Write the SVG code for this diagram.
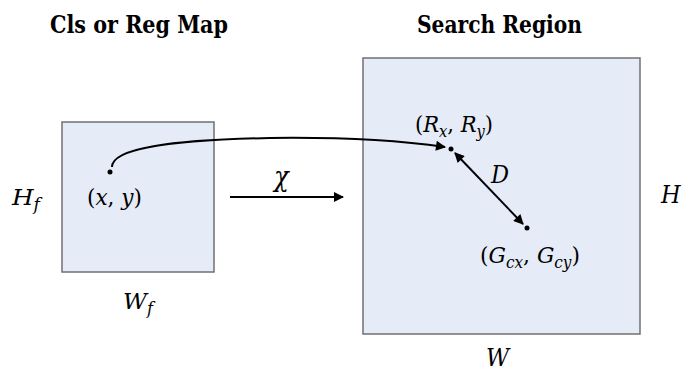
<svg xmlns="http://www.w3.org/2000/svg" width="682" height="371" viewBox="0 0 682 371">
<style>
.box{fill:#e6ecf7;stroke:#707070;stroke-width:1.5}
text{font-family:'DejaVu Serif Condensed','DejaVu Serif',serif;font-size:23px;fill:#000}
.i{font-style:italic}
.L{font-size:25px}
.b{font-weight:bold;font-size:24px}
.s{font-size:16px}
.ln{fill:none;stroke:#000;stroke-width:2}
</style>
<defs>
<marker id="ah" viewBox="0 0 10 10" refX="9" refY="5" markerWidth="5.5" markerHeight="5" orient="auto-start-reverse" markerUnits="strokeWidth">
<path d="M0,0 L10,5 L0,10 z" fill="#000"/>
</marker>
</defs>
<rect width="682" height="371" fill="#fff"/>
<text class="b" x="50" y="33" textLength="178" lengthAdjust="spacingAndGlyphs">Cls or Reg Map</text>
<text class="b" x="417" y="33" textLength="165" lengthAdjust="spacingAndGlyphs">Search Region</text>
<g id="feature-map">
<rect class="box" x="62" y="122" width="152" height="150"/>
<circle cx="110" cy="172" r="2.5"/>
<text x="87" y="205" textLength="55" lengthAdjust="spacingAndGlyphs">(<tspan class="i">x</tspan>, <tspan class="i">y</tspan>)</text>
<text class="i" x="12" y="205" textLength="28" lengthAdjust="spacingAndGlyphs">H<tspan class="s" dy="5">f</tspan></text>
<text class="i" x="123" y="309" textLength="30" lengthAdjust="spacingAndGlyphs">W<tspan class="s" dy="5">f</tspan></text>
</g>
<g id="search-region">
<rect class="box" x="363" y="58" width="277" height="276"/>
<circle cx="451" cy="149" r="2.5"/>
<circle cx="527" cy="228" r="2.5"/>
<text x="415" y="132" textLength="78" lengthAdjust="spacingAndGlyphs">(<tspan class="i">R</tspan><tspan class="s i" dy="5">x</tspan><tspan dy="-5">, </tspan><tspan class="i">R</tspan><tspan class="s i" dy="5">y</tspan><tspan dy="-5">)</tspan></text>
<text x="480" y="263" textLength="100" lengthAdjust="spacingAndGlyphs">(<tspan class="i">G</tspan><tspan class="s i" dy="5">cx</tspan><tspan dy="-5">, </tspan><tspan class="i">G</tspan><tspan class="s i" dy="5">cy</tspan><tspan dy="-5">)</tspan></text>
<text class="i L" x="491" y="183">D</text>
<text class="i L" x="661" y="203">H</text>
<text class="i L" x="486" y="366">W</text>
</g>
<g id="connectors">
<path class="ln" d="M112,167 C112,148 170,140 270,138 C350,137 410,142 445,147" marker-end="url(#ah)"/>
<line class="ln" x1="455" y1="153" x2="523" y2="224" marker-start="url(#ah)" marker-end="url(#ah)"/>
<line class="ln" x1="230" y1="197" x2="343" y2="197" marker-end="url(#ah)"/>
<text class="i" x="274" y="186" style="font-size:27px">χ</text>
</g>
</svg>
